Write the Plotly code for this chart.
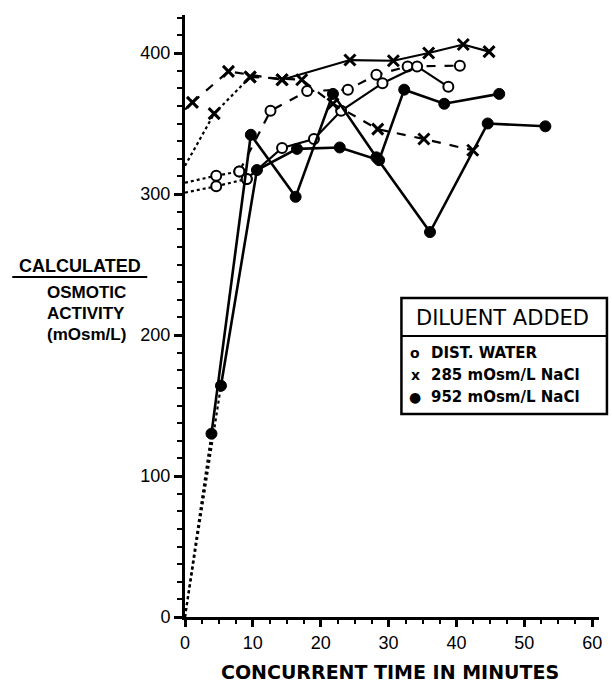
import plotly.graph_objects as go

# ---------------- data ----------------
# 952 mOsm/L NaCl (solid dots), two runs
s1_x = [3.9, 9.7, 16.3, 21.8, 28.2, 36.1, 44.6, 53.1]
s1_y = [130, 342, 298, 371, 326, 273, 350, 348]
s2_x = [5.3, 10.6, 16.5, 22.8, 28.6, 32.3, 38.2, 46.3]
s2_y = [164, 317, 332, 333, 324, 374, 364, 371]
s_start = [0, 0]

# distilled water (open circles), two runs
o1_x = [4.6, 8.0, 12.6, 18.0, 24.0, 28.2, 32.8, 40.5]
o1_y = [313, 316, 359, 373, 374, 384.5, 390.5, 391]
o2_x = [4.6, 9.1, 14.3, 19.0, 23.0, 29.1, 34.2, 38.8]
o2_y = [305.5, 310.7, 332.6, 339, 359, 378.6, 390.5, 376]
o_start = [308, 301]

# 285 mOsm/L NaCl (crosses), two runs
c1_x = [1.1, 6.4, 14.3, 24.3, 30.7, 35.9, 41.0, 44.8]
c1_y = [365, 387, 381, 395, 394.5, 400, 406, 401]
c2_x = [4.3, 9.6, 17.2, 21.8, 28.4, 35.2, 42.4]
c2_y = [357, 383, 381, 364, 346, 339, 331]
c_start = [360, 320]

x_ticks = [0, 10, 20, 30, 40, 50, 60]
y_ticks = [0, 100, 200, 300, 400]

legend_title = "DILUENT ADDED"
legend_items = ["DIST. WATER", "285 mOsm/L NaCl", "952 mOsm/L NaCl"]

# ---------------- layout geometry (pixels) ----------------
W, H = 612, 688
L, R, T, B = 185, 10, 15, 71
X_MAX = 61.0
PW, PH = W - L - R, H - T - B


def px(xp):
    return (xp - L) / PW


def py(yp):
    return (H - B - yp) / PH


BLK = "black"
fig = go.Figure()

open_marker = dict(symbol="circle", size=10, color="white", line=dict(color=BLK, width=2))
dot_marker = dict(symbol="circle", size=11, color=BLK, line=dict(color=BLK, width=1))
x_marker = dict(symbol="x-thin", size=11, color=BLK, line=dict(color=BLK, width=3))


def lead(x0, y0, x1, y1, dash="dot"):
    fig.add_trace(go.Scatter(x=[x0, x1], y=[y0, y1], mode="lines",
                             line=dict(color=BLK, width=2.2, dash=dash),
                             showlegend=False, hoverinfo="skip"))


def series(xs, ys, marker, dash, width=2.4):
    fig.add_trace(go.Scatter(x=xs, y=ys, mode="lines+markers",
                             line=dict(color=BLK, width=width, dash=dash),
                             marker=marker, showlegend=False))


# lead-in lines from time zero
lead(0, s_start[0], s1_x[0], s1_y[0])
lead(0, s_start[1], s2_x[0], s2_y[0])
lead(0, o_start[0], o1_x[0], o1_y[0])
lead(0, o_start[1], o2_x[0], o2_y[0])
lead(0, c_start[1], c2_x[0], c2_y[0])
lead(0, c_start[0], c1_x[0], c1_y[0], "dash")

# main series
series(o1_x[:2], o1_y[:2], open_marker, "dot", 2.2)
series(o1_x[1:], o1_y[1:], open_marker, "dash", 2.2)
series(o2_x[:2], o2_y[:2], open_marker, "dot", 2.2)
series(o2_x[1:], o2_y[1:], open_marker, "solid", 2.2)
series(c1_x[:3], c1_y[:3], x_marker, "dash", 2.2)
series(c1_x[2:], c1_y[2:], x_marker, "solid", 2.2)
series(c2_x[:2], c2_y[:2], x_marker, "dot", 2.2)
series(c2_x[1:], c2_y[1:], x_marker, "dash", 2.2)
series(s1_x, s1_y, dot_marker, "solid", 2.6)
series(s2_x, s2_y, dot_marker, "solid", 2.6)

TF = dict(family="Liberation Sans", size=18, color=BLK)

fig.update_xaxes(range=[0, X_MAX], tickvals=x_ticks, ticks="outside", ticklen=7, tickwidth=2.5,
                 showline=True, linewidth=3, linecolor=BLK, showgrid=False, zeroline=False,
                 tickfont=TF, tickcolor=BLK,
                 minor=dict(dtick=2.5, ticks="outside", ticklen=4, tickwidth=2, tickcolor=BLK))
fig.update_yaxes(range=[0, PH / 1.41], tickvals=y_ticks, ticks="outside", ticklen=8, tickwidth=2.5,
                 showline=True, linewidth=3, linecolor=BLK, showgrid=False, zeroline=False,
                 tickfont=TF, tickcolor=BLK,
                 minor=dict(dtick=12.5, ticks="outside", ticklen=5, tickwidth=2, tickcolor=BLK))

ann = []
ann.append(dict(x=px(79), y=py(266), xref="paper", yref="paper", text="<b>CALCULATED</b>",
                showarrow=False, font=dict(family="Liberation Sans", size=18, color=BLK),
                xanchor="center", yanchor="middle"))
for text, yp in [("<b>OSMOTIC</b>", 292), ("<b>ACTIVITY</b>", 313), ("<b>(mOsm/L)</b>", 335)]:
    ann.append(dict(x=px(44), y=py(yp), xref="paper", yref="paper", text=text,
                    showarrow=False, font=dict(family="Liberation Sans", size=17, color=BLK),
                    xanchor="left", yanchor="middle"))
ann.append(dict(x=px(391), y=py(672), xref="paper", yref="paper",
                text="<b>CONCURRENT TIME IN MINUTES</b>", showarrow=False,
                font=dict(family="DejaVu Sans", size=19, color=BLK),
                xanchor="center", yanchor="middle"))

# legend box
bx0, bx1, by0, by1, bdiv = 403, 610, 298, 414, 336
shapes = [
    dict(type="rect", xref="paper", yref="paper", x0=px(bx0), x1=px(bx1), y0=py(by1), y1=py(by0),
         line=dict(color=BLK, width=2.5), fillcolor="white", layer="above"),
    dict(type="line", xref="paper", yref="paper", x0=px(bx0), x1=px(bx1), y0=py(bdiv), y1=py(bdiv),
         line=dict(color=BLK, width=2)),
    dict(type="line", xref="paper", yref="paper", x0=px(11), x1=px(147), y0=py(277), y1=py(277),
         line=dict(color=BLK, width=2)),
]
ann.append(dict(x=px(505), y=py(318), xref="paper", yref="paper", text=legend_title,
                showarrow=False, font=dict(family="DejaVu Sans", size=21, color=BLK),
                xanchor="center", yanchor="middle"))
syms = ["<b>o</b>", "<b>x</b>", "●"]
for i, (s, t) in enumerate(zip(syms, legend_items)):
    yp = 353 + 22 * i
    ann.append(dict(x=px(417), y=py(yp), xref="paper", yref="paper", text=s, showarrow=False,
                    font=dict(family="DejaVu Sans", size=14, color=BLK), xanchor="center", yanchor="middle"))
    ann.append(dict(x=px(431), y=py(yp), xref="paper", yref="paper", text="<b>" + t + "</b>",
                    showarrow=False, font=dict(family="DejaVu Sans", size=15, color=BLK),
                    xanchor="left", yanchor="middle"))

fig.update_layout(width=W, height=H, margin=dict(l=L, r=R, t=T, b=B),
                  paper_bgcolor="white", plot_bgcolor="white",
                  annotations=ann, shapes=shapes, showlegend=False)

fig.write_html("out.html", config={"displayModeBar": False},
               post_script="document.body.style.margin='0';document.body.style.overflow='hidden';")
